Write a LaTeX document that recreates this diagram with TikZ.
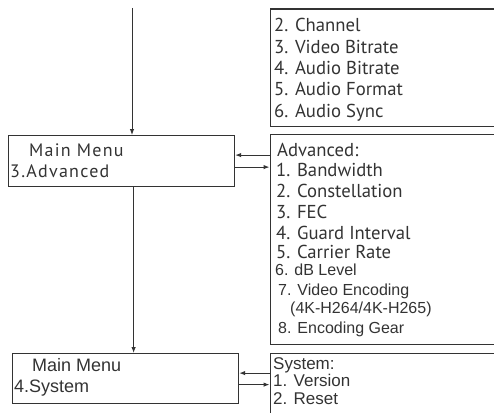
\documentclass[tikz,border=0pt]{standalone}
\usepackage{fontspec}
\setmainfont{Liberation Sans}
\newfontfamily\menufont{PT Sans}
\newfontfamily\menufontwide[LetterSpace=7]{PT Sans}
\usetikzlibrary{arrows.meta}
\definecolor{ink}{HTML}{333333}

\begin{document}
\begin{tikzpicture}[x=1pt, y=-1pt,
  box/.style={draw=ink, line width=1.2pt, anchor=north west, inner sep=0pt},
  arr/.style={draw=ink, line width=1pt, -{Latex[length=6pt,width=4.5pt]}},
  item/.style={anchor=base west, inner sep=0pt, text=ink, font=\menufont\fontsize{18.7}{20}\selectfont},
  mitem/.style={item, font=\menufontwide\fontsize{18}{20}\selectfont},
  aitem/.style={item, font=\fontsize{16}{18}\selectfont},
  sitem/.style={item, font=\fontsize{17}{20}\selectfont}]
\clip (0,0) rectangle (494,412);
% boxes
\node[box, minimum width=224pt, minimum height=117pt] (audio) at (269.5,8.5){};
\node[box, minimum width=224pt, minimum height=210.5pt] (adv) at (269.5,133.5){};
\node[box, minimum width=226pt, minimum height=51pt] (mm3) at (8,135){};
\node[box, minimum width=226pt, minimum height=50pt] (mm4) at (12,353){};
\node[box, minimum width=224pt, minimum height=80pt] (sys) at (269.5,353){};
% audio items
\foreach \t [count=\i] in {2. Channel, 3. Video Bitrate, 4. Audio Bitrate, 5. Audio Format, 6. Audio Sync}
  \node[item] (audio\i) at (274,10.75+21.25*\i){\t};
% advanced items
\node[item] (adv0) at (277,156.5){Advanced:};
\foreach \y/\t [count=\i] in {176.5/1. Bandwidth, 197/2. Constellation, 218/3. FEC, 239/4. Guard Interval, 258/5. Carrier Rate}
  \node[item] (adv\i) at (276,\y){\t};
\node[aitem] (adv6) at (275,275){6. dB Level};
\node[aitem] (adv7) at (278,295){7. Video Encoding};
\node[aitem] (adv7b) at (290,313){(4K-H264/4K-H265)};
\node[aitem] (adv8) at (278,333){8. Encoding Gear};
% main menu
\node[mitem] (mm3a) at (29,156.7){Main Menu};
\node[mitem] (mm3b) at (10,177.7){3.Advanced};
\node[sitem, font=\fontsize{18}{20}\selectfont] (mm4a) at (32,371.7){Main Menu};
\node[sitem, font=\fontsize{18}{20}\selectfont] (mm4b) at (14,392.7){4.System};
% system items
\node[sitem] (sys0) at (273,369.3){System:};
\node[sitem] (sys1) at (273,386.7){1. Version};
\node[sitem] (sys2) at (273,404){2. Reset};
% arrows
\coordinate (in) at (132,8);
\draw[arr] (in) -- (in |- mm3.north);
\draw[arr] ([xshift=12pt]mm3.south) -- ([xshift=12pt]mm3.south |- mm4.north);
\coordinate (a1) at ([yshift=6pt]mm3.east);
\coordinate (a2) at ([yshift=-6pt]mm3.east);
\draw[arr] (a1 -| adv.west) -- (a1);
\draw[arr] (a2) -- (a2 -| adv.west);
\coordinate (s1) at ([yshift=5.5pt]mm4.east);
\coordinate (s2) at ([yshift=-6pt]mm4.east);
\draw[arr] (s1 -| sys.west) -- (s1);
\draw[arr] (s2) -- (s2 -| sys.west);
\end{tikzpicture}
\end{document}
